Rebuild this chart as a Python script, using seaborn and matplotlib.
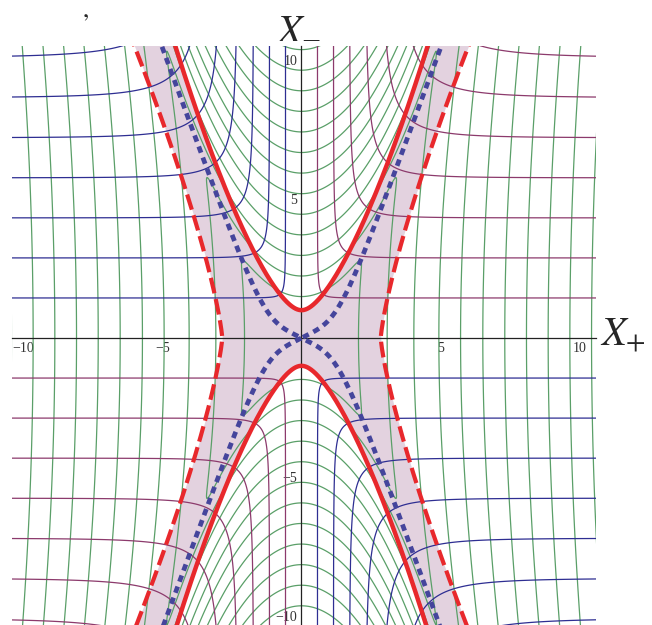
import numpy as np
import matplotlib
matplotlib.use("Agg")
import matplotlib.pyplot as plt
import seaborn as sns
import pandas as pd

# ---- level positions of the coordinate grid ----
# green family: crossings of the X+ axis outside the strip, and of the X- axis inside
green_outer_x = [2.05, 3.08, 4.04, 4.94, 5.72, 6.52, 7.31, 8.09, 8.87, 9.65, 10.43, 11.21, 11.99, 12.77, 13.55]
green_inner_y0 = 1.49
green_inner_step = 0.74
green_inner_curv = 0.32
green_outer_bow = 0.07
# blue / purple family: horizontal spacing far out, vertical spacing near X- axis
gauge_outer_step = 1.44
gauge_inner_step = 0.575
gauge_levels = [1, 2, 3, 4, 5, 6, 7, 8]

# ---- special curves ----
horizon_vertex = 1.0      # solid red: X- = +-(1 + |X+|^1.5), rounded at the vertex
horizon_soft = 0.35
shell_x0 = 2.85           # dashed red: X+ = +-(2.85 + 0.152 |X-|^1.29)
shell_coef = 0.152
shell_power = 1.29
caustic_lin = 0.5         # dotted blue: X- = +-(0.5|X+| + 2.24((X+^4 + 1.47^4)^(1/4) - 1.47))
caustic_amp = 2.24
caustic_width = 1.47

major_ticks = [-10, -5, 5, 10]
minor_ticks = [v for v in range(-10, 11) if v not in (-10, -5, 0, 5, 10)]

GREEN = "#5a9f68"
BLUE = "#2e2e92"
PURPLE = "#8c3a6c"
RED = "#e8282c"
DOT = "#45459c"
SHADE = "#e3d2df"

sns.set_theme(style="white")
plt.rcParams["font.family"] = ["Liberation Serif", "DejaVu Serif"]
plt.rcParams["mathtext.fontset"] = "stix"
plt.rcParams["axes.unicode_minus"] = True

fig = plt.figure(figsize=(6.52, 6.25), dpi=100)
ax = fig.add_axes([12 / 652, 0, 584 / 652, 579 / 625])
XLIM = (-10.41, 10.59)
YLIM = (-10.32, 10.50)
ax.set_xlim(*XLIM)
ax.set_ylim(*YLIM)
ax.set_facecolor("white")

# ---- shaded strip between horizon and shell ----
yf = np.linspace(-11, 11, 3001)
ay = np.abs(yf)
e15 = horizon_soft ** 1.5
inner = np.where(ay > horizon_vertex,
                 np.sqrt(np.clip((np.clip(ay - horizon_vertex, 0, None) + e15) ** (4 / 3) - horizon_soft ** 2, 0, None)),
                 0.0)
outer = shell_x0 + shell_coef * ay ** shell_power
ax.fill_betweenx(yf, -outer, -inner, color=SHADE, lw=0, zorder=1)
ax.fill_betweenx(yf, inner, outer, color=SHADE, lw=0, zorder=1)

# ---- coordinate fields ----
xs = np.linspace(-10.8, 10.9, 1500)
ys = np.linspace(-10.8, 10.9, 1500)
X, Y = np.meshgrid(xs, ys)

idx = np.arange(1, len(green_outer_x) + 1)
kA = (np.abs(Y) - green_inner_curv * X ** 2 - green_inner_y0) / green_inner_step + 1
R = np.sqrt(np.clip(X ** 2 - green_outer_bow * Y ** 2, 0, None))
kB = np.interp(R, np.r_[0.0, green_outer_x], np.r_[-0.6, idx])
T = 0.15
F = T * np.logaddexp(kA / T, kB / T)
ax.contour(X, Y, F, levels=list(idx), colors=GREEN, linewidths=0.9, zorder=2)

p = 4.0
gout = np.maximum(np.abs(Y) / gauge_outer_step, 1e-6)
gin = np.maximum(np.abs(X) / gauge_inner_step, 1e-6)
G = (gout ** -p + gin ** -p) ** (-1 / p)
G_blue = np.ma.masked_where(X * Y > 0, G)
G_purple = np.ma.masked_where(X * Y < 0, G)
ax.contour(X, Y, G_blue, levels=gauge_levels, colors=BLUE, linewidths=0.9, zorder=2)
ax.contour(X, Y, G_purple, levels=gauge_levels, colors=PURPLE, linewidths=0.9, zorder=2)

# ---- axes through the origin ----
for side in ("top", "right"):
    ax.spines[side].set_visible(False)
ax.spines["left"].set_position(("data", 0))
ax.spines["bottom"].set_position(("data", 0))
for side in ("left", "bottom"):
    ax.spines[side].set_color("#222222")
    ax.spines[side].set_linewidth(0.9)
    ax.spines[side].set_zorder(3)
ax.set_xticks(major_ticks)
ax.set_yticks(major_ticks)
ax.set_xticks(minor_ticks, minor=True)
ax.set_yticks(minor_ticks, minor=True)
ax.tick_params(which="major", direction="in", length=4.5, width=0.8, color="#333333",
               labelsize=10, pad=3)
ax.tick_params(which="minor", direction="in", length=2.8, width=0.7, color="#333333")
for lab in ax.get_xticklabels() + ax.get_yticklabels():
    lab.set_color("#333333")
    lab.set_bbox(dict(facecolor="white", edgecolor="none", pad=0.6))
ax.grid(False)

# ---- special curves ----
xc = np.linspace(-5.2, 5.2, 801)
hz = horizon_vertex + (xc ** 2 + horizon_soft ** 2) ** 0.75 - e15
yc = np.linspace(-11, 11, 801)
sh = shell_x0 + shell_coef * np.abs(yc) ** shell_power
xd = np.linspace(-5.6, 5.6, 801)
cs = caustic_lin * np.abs(xd) + caustic_amp * ((xd ** 4 + caustic_width ** 4) ** 0.25 - caustic_width)

curves = [
    (pd.DataFrame({"a": xc, "b": hz}), RED, 3.2, None),
    (pd.DataFrame({"a": xc, "b": -hz}), RED, 3.2, None),
    (pd.DataFrame({"a": sh, "b": yc}), RED, 3.0, (3.8, 1.4)),
    (pd.DataFrame({"a": -sh, "b": yc}), RED, 3.0, (3.8, 1.4)),
    (pd.DataFrame({"a": xd, "b": cs}), DOT, 3.4, (1.4, 1.1)),
    (pd.DataFrame({"a": xd, "b": -cs}), DOT, 3.4, (1.4, 1.1)),
]
for df, col, lw, dash in curves:
    sns.lineplot(data=df, x="a", y="b", sort=False, estimator=None, ax=ax,
                 color=col, lw=lw, zorder=4)
    l = ax.lines[-1]
    if dash is not None:
        l.set_dashes(dash)
        l.set_dash_capstyle("butt")
ax.set_xlabel("")
ax.set_ylabel("")
ax.set_xlim(*XLIM)
ax.set_ylim(*YLIM)

# ---- axis names ----
fig.text(299 / 652, 1 - 38 / 625, r"$X_{-}$", fontsize=29, ha="center", va="baseline")
fig.text(600 / 652, 1 - 345 / 625, r"$X_{+}$", fontsize=29, ha="left", va="baseline")
fig.text(85 / 652, 1 - 1 / 625, r"$,$", fontsize=18, ha="center", va="top")

fig.savefig("out.png", dpi=100)
